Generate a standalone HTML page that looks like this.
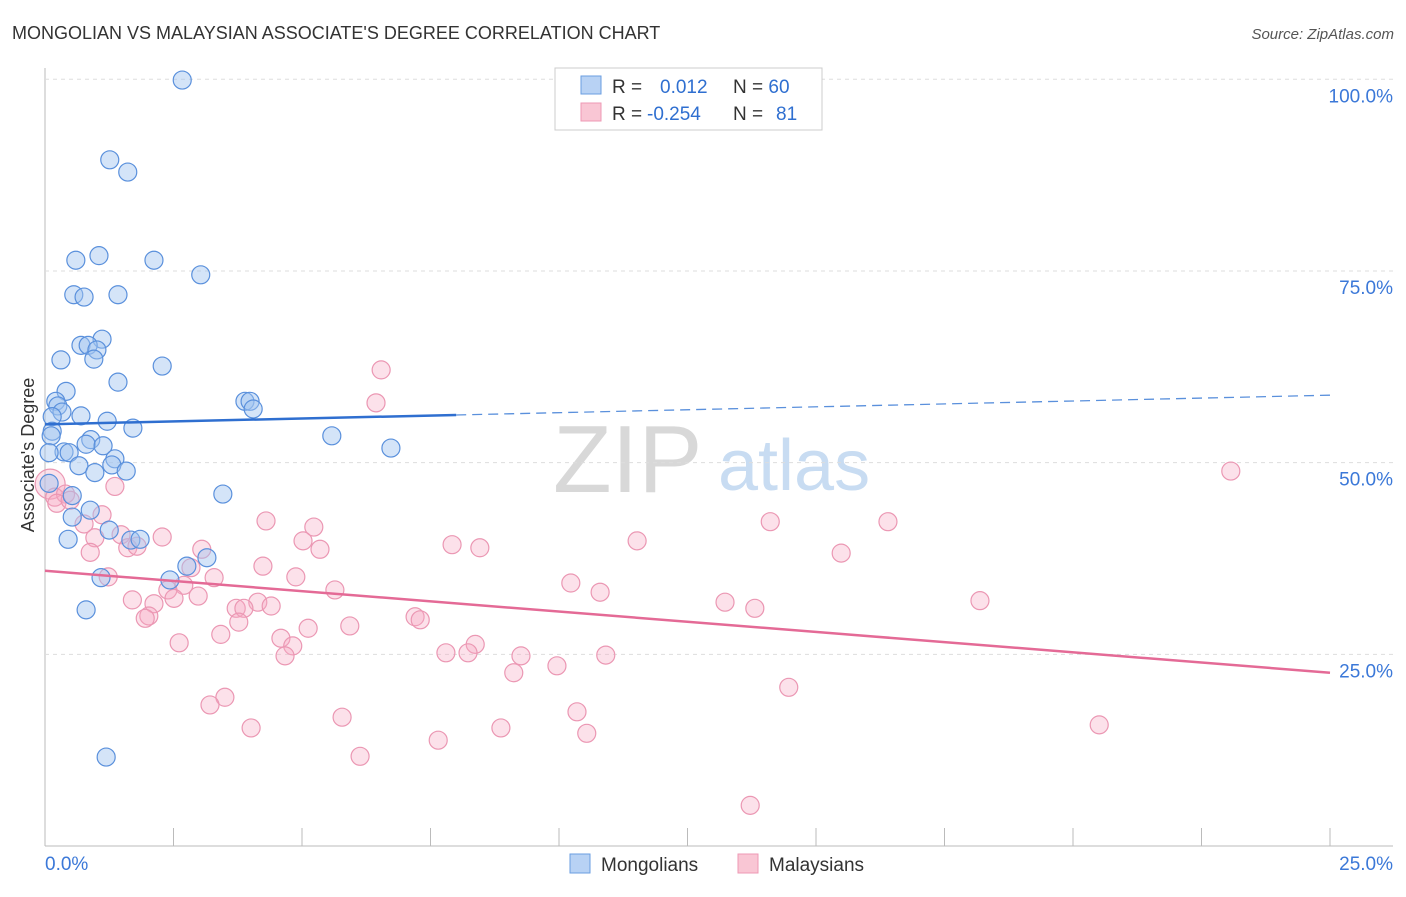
<!DOCTYPE html>
<html><head><meta charset="utf-8"><style>
body{margin:0;background:#fff;font-family:"Liberation Sans",sans-serif;}
svg text{font-family:"Liberation Sans",sans-serif;}
</style></head><body>
<svg id="c" width="1406" height="892">
<text x="12" y="39" font-size="18" fill="#333">MONGOLIAN VS MALAYSIAN ASSOCIATE'S DEGREE CORRELATION CHART</text>
<text x="1394" y="39" font-size="15" fill="#555" text-anchor="end" font-style="italic">Source: ZipAtlas.com</text>
<text x="34" y="455" font-size="18" fill="#333" text-anchor="middle" transform="rotate(-90 34 455)">Associate's Degree</text>
<g><text x="553" y="492" font-size="96" fill="#d8d8d8" font-family="Liberation Serif,serif">ZIP</text><text x="718" y="490" font-size="72" fill="#c8dcf2">atlas</text></g>
<g id="grid"></g><g id="pts"></g><g id="lines"></g>
<g>
<rect x="555" y="68" width="267" height="62" fill="#fff" stroke="#ccc"/>
<rect x="581" y="76" width="20" height="18" fill="#b8d2f4" stroke="#6a9ee0"/>
<rect x="581" y="103" width="20" height="18" fill="#f9c6d4" stroke="#ee98b4"/>
<text x="612" y="93" font-size="19" fill="#333">R = <tspan fill="#2f6fd0" x="660">0.012</tspan><tspan x="733">N = </tspan><tspan fill="#2f6fd0">60</tspan></text>
<text x="612" y="120" font-size="19" fill="#333">R = <tspan fill="#2f6fd0" x="647">-0.254</tspan><tspan x="733">N = </tspan><tspan fill="#2f6fd0" x="776">81</tspan></text>
</g>
<g>
<rect x="570" y="854" width="20" height="19" fill="#b8d2f4" stroke="#6a9ee0"/><text x="601" y="871" font-size="19" fill="#333">Mongolians</text>
<rect x="738" y="854" width="20" height="19" fill="#f9c6d4" stroke="#ee98b4"/><text x="769" y="871" font-size="19" fill="#333">Malaysians</text>
</g>
</svg>
<script>
const yTicks=[100,75,50,25];
const yTickLabels=["100.0%","75.0%","50.0%","25.0%"];
const xTickLabels=["0.0%","25.0%"];
const blueX=[2.67,1.26,1.61,1.05,0.60,2.12,3.03,0.56,0.76,1.42,1.11,0.70,0.84,1.01,0.95,0.31,2.28,1.42,0.41,0.21,0.25,3.89,3.99,4.05,0.33,0.70,0.14,1.21,1.71,0.14,0.12,5.58,0.89,0.80,1.13,6.73,0.37,0.47,0.08,1.36,0.66,1.30,1.58,0.97,0.08,0.53,3.46,0.88,0.53,1.25,1.67,1.85,0.45,3.15,2.76,1.09,2.43,0.80,1.19];
const blueY=[99.9,89.5,87.9,77.0,76.4,76.4,74.5,71.9,71.6,71.9,66.1,65.3,65.3,64.7,63.5,63.4,62.6,60.5,59.3,58.0,57.4,58.0,58.0,57.0,56.6,56.1,56.0,55.4,54.5,54.1,53.5,53.5,53.0,52.4,52.2,51.9,51.4,51.3,51.3,50.5,49.6,49.7,48.9,48.7,47.3,45.7,45.9,43.8,42.9,41.2,39.9,40.0,40.0,37.6,36.5,35.0,34.7,30.8,11.6];
const pinkX=[6.54,6.44,23.07,1.36,0.10,0.19,0.40,0.23,0.49,1.11,0.76,4.30,5.23,1.48,0.97,2.28,14.11,16.40,11.52,5.02,3.05,5.35,7.92,8.46,1.61,1.79,0.88,15.49,4.24,2.84,1.23,4.88,3.29,10.23,2.70,5.64,10.80,2.39,1.70,2.51,2.98,13.23,18.19,4.14,4.40,3.72,3.87,2.12,13.81,2.02,1.95,7.20,7.30,3.77,5.93,5.12,3.42,4.59,2.61,4.82,8.37,7.80,8.23,4.67,9.26,10.91,9.96,9.12,14.47,3.50,3.21,10.35,5.78,20.51,4.01,8.87,10.54,7.65,6.13,13.72];
const pinkY=[62.1,57.8,48.9,46.9,47.2,45.5,45.9,44.7,45.1,43.2,42.0,42.4,41.6,40.6,40.2,40.3,42.3,42.3,39.8,39.8,38.7,38.7,39.3,38.9,38.9,39.1,38.3,38.2,36.5,36.3,35.1,35.1,35.0,34.3,34.0,33.4,33.1,33.4,32.1,32.3,32.6,31.8,32.0,31.8,31.3,31.0,31.0,31.6,31.0,30.0,29.7,29.9,29.5,29.2,28.7,28.4,27.6,27.1,26.5,26.1,26.3,25.2,25.2,24.8,24.8,24.9,23.5,22.6,20.7,19.4,18.4,17.5,16.8,15.8,15.4,15.4,14.7,13.8,11.7,5.3];
const blueTrend=[55.0,58.8];
const pinkTrend=[35.9,22.6];
const X=v=>45+v*51.4, Y=v=>846-v*7.667;
const NS="http://www.w3.org/2000/svg";
function mk(t,a,p){const e=document.createElementNS(NS,t);for(const k in a)e.setAttribute(k,a[k]);document.getElementById(p).appendChild(e);return e;}
let e;
e=mk('line',{x1:45,y1:68,x2:45,y2:846,stroke:'#bbb'},'grid');


e=mk('line',{x1:45,y1:846,x2:1393,y2:846,stroke:'#bbb'},'grid');


yTicks.forEach((t,i)=>{
 e=mk('line',{x1:45,y1:Y(t),x2:1393,y2:Y(t),stroke:'#ddd','stroke-dasharray':'4 4'},'grid');
 
 
 e=mk('text',{x:1393,y:Y(t)+23,'font-size':19,fill:'#3b78d8','text-anchor':'end'},'grid');
 e.textContent=yTickLabels[i];
 
 
});
for(let i=0;i<=10;i++){
 e=mk('line',{x1:X(i*2.5),y1:828,x2:X(i*2.5),y2:846,stroke:'#bbb'},'grid');
 
 
}
e=mk('text',{x:45,y:870,'font-size':19,fill:'#3b78d8'},'grid');e.textContent=xTickLabels[0];


e=mk('text',{x:1393,y:870,'font-size':19,fill:'#3b78d8','text-anchor':'end'},'grid');e.textContent=xTickLabels[1];


pinkX.forEach((x,i)=>{
 e=mk('circle',{cx:X(x),cy:Y(pinkY[i]),r:i==4?15:9,fill:'rgba(245,170,195,0.35)',stroke:'#eb97b3','stroke-width':1.2},'pts');
 
 
});
blueX.forEach((x,i)=>{
 e=mk('circle',{cx:X(x),cy:Y(blueY[i]),r:9,fill:'rgba(160,195,240,0.45)',stroke:'#5a90dc','stroke-width':1.2},'pts');
 
 
});
const bAt=x=>blueTrend[0]+(blueTrend[1]-blueTrend[0])*x/25;
e=mk('line',{x1:X(0),y1:Y(bAt(0)),x2:X(8),y2:Y(bAt(8)),stroke:'#2f6fd0','stroke-width':2.5},'lines');


e=mk('line',{x1:X(8),y1:Y(bAt(8)),x2:X(25),y2:Y(bAt(25)),stroke:'#5a90dc','stroke-width':1.3,'stroke-dasharray':'10 6'},'lines');


e=mk('line',{x1:X(0),y1:Y(pinkTrend[0]),x2:X(25),y2:Y(pinkTrend[1]),stroke:'#e46a96','stroke-width':2.5},'lines');


</script>
</body></html>
